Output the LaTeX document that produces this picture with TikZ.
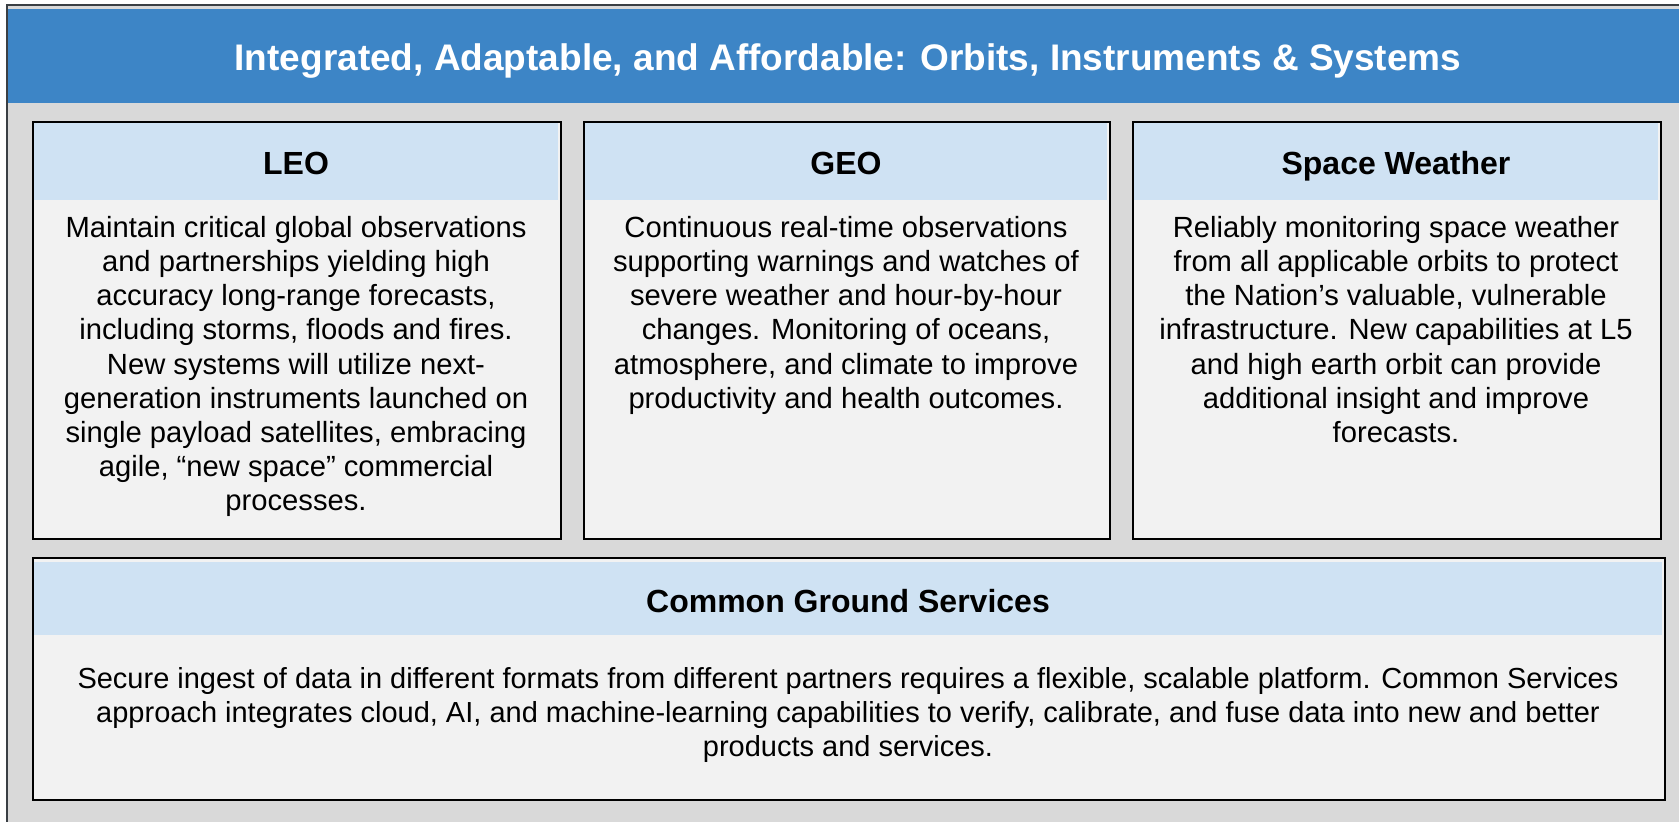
\documentclass[tikz,border=0pt]{standalone}
\usepackage{fontspec}
\setmainfont{Liberation Sans}
\definecolor{hdrblue}{HTML}{3D85C6}
\definecolor{lightblue}{HTML}{CFE2F3}
\definecolor{bodygray}{HTML}{F2F2F2}
\definecolor{bggray}{HTML}{D9D9D9}
\definecolor{framegray}{HTML}{3A3F44}
\tikzset{
  x=1pt, y=1pt,
  panel/.style={draw=black, line width=1.6pt, fill=bodygray, anchor=north west, inner sep=0pt},
  panelhead/.style={fill=lightblue, anchor=north west, inner sep=0pt},
  headtext/.style={font=\fontsize{32}{36}\selectfont\bfseries, anchor=base, inner sep=0pt},
  bodytext/.style={font=\fontsize{29.2}{34.2}\selectfont, align=center, anchor=north, inner sep=0pt},
}
\begin{document}
\begin{tikzpicture}
\useasboundingbox (0,0) rectangle (1679,-822);
% outer frame
\fill[bggray] (7,-5) rectangle (1690,-830);
\draw[framegray, line width=2pt] (7,-830) -- (7,-5) -- (1690,-5);
\node[fill=hdrblue, anchor=north west, inner sep=0pt, minimum width=1680pt, minimum height=94pt] (banner) at (8,-9) {};
\node[text=white, font=\fontsize{37}{40}\selectfont\bfseries, anchor=base, inner sep=0pt] (title) at (848,-70) {Integrated, Adaptable, and Affordable: Orbits, Instruments \& Systems};

% LEO
\node[panel, minimum width=528pt, minimum height=417pt] (leo) at (32,-121) {};
\node[panelhead, minimum width=524pt, minimum height=77pt] (leoh) at (34,-123) {};
\node[headtext] (leot) at (296,-174) {LEO};
\node[bodytext] (leob) at (296,-216) {Maintain critical global observations\\and partnerships yielding high\\accuracy long-range forecasts,\\including storms, floods and fires.\\New systems will utilize next-\\generation instruments launched on\\single payload satellites, embracing\\agile, “new space” commercial\\processes.};

% GEO
\node[panel, minimum width=526pt, minimum height=417pt] (geo) at (583,-121) {};
\node[panelhead, minimum width=522pt, minimum height=77pt] (geoh) at (585,-123) {};
\node[headtext] (geot) at (846,-174) {GEO};
\node[bodytext] (geob) at (846,-216) {Continuous real-time observations\\supporting warnings and watches of\\severe weather and hour-by-hour\\changes. Monitoring of oceans,\\atmosphere, and climate to improve\\productivity and health outcomes.};

% Space Weather
\node[panel, minimum width=528pt, minimum height=417pt] (sw) at (1132,-121) {};
\node[panelhead, minimum width=524pt, minimum height=77pt] (swh) at (1134,-123) {};
\node[headtext] (swt) at (1396,-174) {Space Weather};
\node[bodytext] (swb) at (1396,-216) {Reliably monitoring space weather\\from all applicable orbits to protect\\the Nation’s valuable, vulnerable\\infrastructure. New capabilities at L5\\and high earth orbit can provide\\additional insight and improve\\forecasts.};

% Common Ground Services
\node[panel, minimum width=1632pt, minimum height=242pt] (cgs) at (32,-557) {};
\node[panelhead, minimum width=1628pt, minimum height=73pt] (cgsh) at (34,-562) {};
\node[headtext] (cgst) at (848,-612) {Common Ground Services};
\node[bodytext, font=\fontsize{29}{34.2}\selectfont] (cgsb) at (848,-667) {Secure ingest of data in different formats from different partners requires a flexible, scalable platform. Common Services\\approach integrates cloud, AI, and machine-learning capabilities to verify, calibrate, and fuse data into new and better\\products and services.};
\end{tikzpicture}
\end{document}
